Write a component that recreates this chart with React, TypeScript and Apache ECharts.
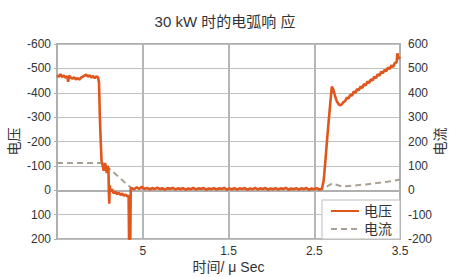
import React, { useEffect, useRef } from "react";
import * as echarts from "echarts";

const titleText = "30 kW 时的电弧响 应";
const xTickLabels = ["", "5", "1.5", "2.5", "3.5"];
const seriesNames = ["电压", "电流"];

// voltage (left, inverted axis) : [time unit, value]
const voltage: [number, number][] = [
  [0, -472], [0.02, -466], [0.04, -476], [0.06, -464], [0.08, -471], [0.1, -462], [0.12, -468], [0.13, -445], [0.14, -470],
  [0.16, -462], [0.18, -458], [0.2, -463], [0.22, -455], [0.24, -460], [0.26, -454], [0.28, -462], [0.3, -466],
  [0.32, -470], [0.34, -474], [0.36, -466], [0.38, -472], [0.4, -463], [0.42, -469], [0.44, -460], [0.46, -467], [0.48, -462],
  [0.49, -440], [0.5, -300], [0.51, -200], [0.52, -118], [0.53, -105], [0.545, -80], [0.56, -112], [0.57, -95],
  [0.58, -70], [0.59, -100], [0.6, -88], [0.605, 10], [0.61, 55], [0.615, -20], [0.62, -8], [0.63, 6], [0.64, -5],
  [0.66, 12], [0.68, 6], [0.7, 16], [0.72, 10], [0.74, 19], [0.76, 14], [0.78, 22], [0.8, 18], [0.82, 25], [0.835, 22],
  [0.84, 200], [0.855, 200], [0.86, -8],
  [0.87, -9], [0.9, -4], [0.93, -12], [0.96, -6], [0.99, -14], [1.02, -5], [1.05, -10], [1.08, -3], [1.11, -9],
  [1.14, -5], [1.17, -11], [1.2, -4], [1.23, -8], [1.26, -2], [1.29, -9], [1.32, -5], [1.35, -10], [1.38, -3],
  [1.41, -8], [1.44, -4], [1.47, -9], [1.5, -2], [1.53, -7], [1.56, -4], [1.59, -10], [1.62, -3], [1.65, -8],
  [1.68, -5], [1.71, -9], [1.74, -2], [1.77, -7], [1.8, -4], [1.83, -9], [1.86, -3], [1.89, -8], [1.92, -5],
  [1.95, -10], [1.98, -2], [2.01, -7], [2.04, -4], [2.07, -9], [2.1, -3], [2.13, -8], [2.16, -5], [2.19, -9],
  [2.22, -2], [2.25, -7], [2.28, -4], [2.31, -10], [2.34, -3], [2.37, -8], [2.4, -5], [2.43, -9], [2.46, -2],
  [2.49, -7], [2.52, -4], [2.55, -9], [2.58, -3], [2.61, -8], [2.64, -5], [2.67, -10], [2.7, -2], [2.73, -7],
  [2.76, -4], [2.79, -9], [2.82, -3], [2.85, -8], [2.88, -5], [2.91, -9], [2.94, -2], [2.97, -7], [3.0, -4],
  [3.03, -9], [3.06, -3], [3.09, -6],
  [3.11, -40], [3.13, -120], [3.15, -210], [3.17, -290], [3.19, -370], [3.205, -425], [3.22, -415], [3.24, -390],
  [3.26, -368], [3.28, -355], [3.3, -348], [3.32, -352], [3.34, -362], [3.36, -366], [3.38, -380], [3.4, -376],
  [3.42, -392], [3.44, -388], [3.46, -405], [3.48, -399], [3.5, -415], [3.52, -410], [3.54, -425], [3.56, -420],
  [3.58, -436], [3.6, -430], [3.62, -446], [3.64, -440], [3.66, -455], [3.68, -450], [3.7, -466], [3.72, -460],
  [3.74, -476], [3.76, -470], [3.78, -486], [3.8, -480], [3.82, -494], [3.84, -488], [3.86, -503], [3.88, -498],
  [3.9, -512], [3.92, -506], [3.94, -522], [3.96, -525], [3.97, -562], [3.98, -538], [4.0, -548],
];

// current (right axis)
const current: [number, number][] = [
  [0, 112], [0.535, 112], [0.87, 8], [3.09, 3], [3.21, 28], [3.33, 15], [3.6, 24], [3.84, 34], [4.0, 44],
];

const FONT = '"Liberation Sans", "Noto Sans CJK SC", sans-serif';

export default function App() {
  const ref = useRef<HTMLDivElement>(null);
  useEffect(() => {
    if (!ref.current) return;
    const chart = echarts.init(ref.current, undefined, { renderer: "svg" });
    chart.setOption({
      animation: false,
      textStyle: { fontFamily: FONT },
      title: {
        text: titleText,
        left: "center",
        top: 9,
        textStyle: { fontSize: 15, fontWeight: "normal", color: "#333", fontFamily: FONT },
      },
      grid: {
        left: 57,
        right: 50,
        top: 44,
        bottom: 38,
        show: true,
        borderColor: "#b0b0b0",
        borderWidth: 2,
        outerBoundsMode: "none",
        containLabel: false,
      },
      legend: {
        orient: "vertical",
        right: 50,
        bottom: 38,
        data: seriesNames,
        backgroundColor: "#fff",
        borderColor: "#bdbdbd",
        borderWidth: 1,
        padding: [4, 8, 3, 8],
        itemGap: 4,
        itemWidth: 28,
        itemHeight: 10,
        itemStyle: { opacity: 0 },
        textStyle: { fontSize: 14, color: "#333", fontFamily: FONT },
      },
      xAxis: {
        type: "value",
        min: 0,
        max: 4,
        interval: 1,
        name: "时间/ μ Sec",
        nameLocation: "middle",
        nameGap: 21,
        nameMoveOverlap: false,
        nameTextStyle: { fontSize: 14, color: "#333" },
        axisLine: { show: true, lineStyle: { color: "#b0b0b0", width: 2 } },
        axisTick: { show: false },
        axisLabel: {
          fontSize: 12,
          color: "#333",
          margin: 6,
          formatter: (v: number) => xTickLabels[Math.round(v)] ?? "",
        },
        splitLine: { show: true, lineStyle: { color: "#b5b5b5", width: 2 } },
      },
      yAxis: [
        {
          type: "value",
          inverse: true,
          min: -600,
          max: 200,
          interval: 100,
          position: "left",
          name: "电压",
          nameLocation: "middle",
          nameRotate: 90,
          nameGap: 36,
          nameMoveOverlap: false,
          nameTextStyle: { fontSize: 14, color: "#333" },
          axisLine: { show: true, lineStyle: { color: "#b0b0b0", width: 2 } },
          axisTick: { show: true, length: 3, lineStyle: { color: "#b0b0b0" } },
          axisLabel: { fontSize: 12, color: "#333", margin: 6 },
          splitLine: { show: true, lineStyle: { color: "#c0c0c0", width: 1 } },
        },
        {
          type: "value",
          min: -200,
          max: 600,
          interval: 100,
          position: "right",
          name: "电流",
          nameLocation: "middle",
          nameRotate: 90,
          nameGap: 33,
          nameMoveOverlap: false,
          nameTextStyle: { fontSize: 14, color: "#333" },
          axisLine: { show: true, lineStyle: { color: "#b0b0b0", width: 2 } },
          axisTick: { show: false },
          axisLabel: { fontSize: 12, color: "#333", margin: 8 },
          splitLine: { show: false },
        },
      ],
      series: [
        {
          name: seriesNames[1],
          type: "line",
          yAxisIndex: 1,
          data: current,
          showSymbol: false,
          symbol: "none",
          lineStyle: { color: "#a9a294", width: 2, type: [6, 4] },
          itemStyle: { color: "#a9a294" },
        },
        {
          name: seriesNames[0],
          type: "line",
          yAxisIndex: 0,
          data: voltage,
          showSymbol: false,
          symbol: "none",
          lineStyle: { color: "#e0561c", width: 2.6 },
          itemStyle: { color: "#e0561c" },
          z: 3,
        },
      ],
    });
    return () => chart.dispose();
  }, []);
  return (
    <div
      ref={ref}
      style={{ width: 450, height: 277, position: "fixed", left: 0, top: 0, background: "#fff" }}
    />
  );
}
